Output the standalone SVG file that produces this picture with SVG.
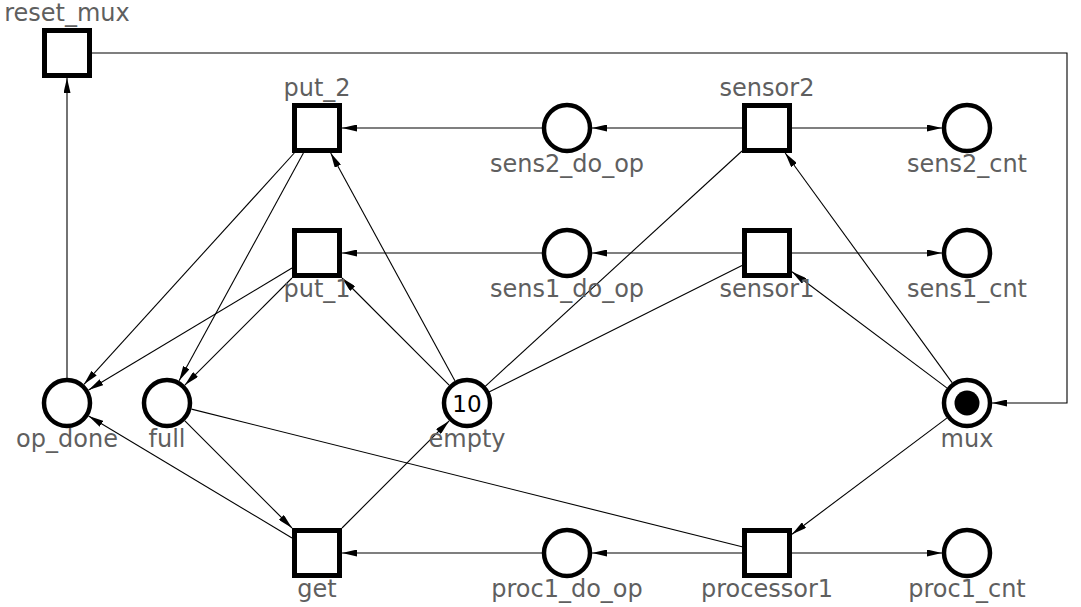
<svg xmlns="http://www.w3.org/2000/svg" width="1081" height="607" viewBox="0 0 1081 607">
<style>
.t{fill:#fff;stroke:#000;stroke-width:5}
.p{fill:#fff;stroke:#000;stroke-width:4.5}
.lbl{font-family:"DejaVu Sans",sans-serif;font-size:24px;fill:#5f5f5f;text-anchor:middle}
.tok{font-family:"DejaVu Sans",sans-serif;font-size:23px;fill:#000;text-anchor:middle}
.e{fill:none;stroke:#000;stroke-width:1.1}
.a{marker-end:url(#ah)}
</style>
<defs>
<marker id="ah" markerUnits="userSpaceOnUse" viewBox="0 0 15 7" markerWidth="15" markerHeight="7" refX="15" refY="3.5" orient="auto">
<path d="M0,0 L15,3.5 L0,7 z" fill="#000"/>
</marker>
</defs>
<rect width="1081" height="607" fill="#fff"/>
<g id="connectors">
<path class="e a" d="M92,53 H1067 V403 H992"/>
<path class="e a" d="M67,378 V78"/>
<path class="e a" d="M542,128 L342,128"/>
<path class="e a" d="M742,128 L592,128"/>
<path class="e a" d="M792,128 L942,128"/>
<path class="e a" d="M542,253 L342,253"/>
<path class="e a" d="M742,253 L592,253"/>
<path class="e a" d="M792,253 L942,253"/>
<path class="e a" d="M542,553 L342,553"/>
<path class="e a" d="M742,553 L592,553"/>
<path class="e a" d="M792,553 L942,553"/>
<path class="e a" d="M294.3,153 L84,384.3"/>
<path class="e a" d="M303.4,153 L179.1,380.8"/>
<path class="e a" d="M292,268 L88.6,390"/>
<path class="e a" d="M292,278 L184.9,385.1"/>
<path class="e a" d="M454.9,380.8 L330.7,153"/>
<path class="e a" d="M449.1,385.1 L342,278"/>
<path class="e" d="M742,151 L484.7,386.8"/>
<path class="e" d="M742,265.5 L488.5,392.3"/>
<path class="e a" d="M952.1,382.6 L785.2,153"/>
<path class="e a" d="M946.8,387.9 L792,271.8"/>
<path class="e a" d="M946.8,418.1 L792,534.2"/>
<path class="e" d="M191.5,409.1 L742,546.8"/>
<path class="e a" d="M184.9,420.9 L292,528"/>
<path class="e a" d="M292,538 L88.6,416"/>
<path class="e a" d="M342,528 L449.1,420.9"/>
</g>
<g id="reset_mux"><rect class="t" x="44.5" y="30.5" width="45" height="45"/><text class="lbl" x="67" y="21">reset_mux</text></g>
<g id="put_2"><rect class="t" x="294.5" y="105.5" width="45" height="45"/><text class="lbl" x="317" y="96">put_2</text></g>
<g id="sens2_do_op"><circle class="p" cx="567" cy="128" r="23"/><text class="lbl" x="567" y="172">sens2_do_op</text></g>
<g id="sensor2"><rect class="t" x="744.5" y="105.5" width="45" height="45"/><text class="lbl" x="767" y="96">sensor2</text></g>
<g id="sens2_cnt"><circle class="p" cx="967" cy="128" r="23"/><text class="lbl" x="967" y="172">sens2_cnt</text></g>
<g id="put_1"><rect class="t" x="294.5" y="230.5" width="45" height="45"/><text class="lbl" x="317" y="297">put_1</text></g>
<g id="sens1_do_op"><circle class="p" cx="567" cy="253" r="23"/><text class="lbl" x="567" y="297">sens1_do_op</text></g>
<g id="sensor1"><rect class="t" x="744.5" y="230.5" width="45" height="45"/><text class="lbl" x="767" y="297">sensor1</text></g>
<g id="sens1_cnt"><circle class="p" cx="967" cy="253" r="23"/><text class="lbl" x="967" y="297">sens1_cnt</text></g>
<g id="op_done"><circle class="p" cx="67" cy="403" r="23"/><text class="lbl" x="67" y="447">op_done</text></g>
<g id="full"><circle class="p" cx="167" cy="403" r="23"/><text class="lbl" x="167" y="447">full</text></g>
<g id="empty"><circle class="p" cx="467" cy="403" r="23"/><text class="tok" x="467" y="412">10</text><text class="lbl" x="467" y="447">empty</text></g>
<g id="mux"><circle class="p" cx="967" cy="403" r="23"/><circle cx="967" cy="403" r="12.5" fill="#000"/><text class="lbl" x="967" y="447">mux</text></g>
<g id="get"><rect class="t" x="294.5" y="530.5" width="45" height="45"/><text class="lbl" x="317" y="597">get</text></g>
<g id="proc1_do_op"><circle class="p" cx="567" cy="553" r="23"/><text class="lbl" x="567" y="597">proc1_do_op</text></g>
<g id="processor1"><rect class="t" x="744.5" y="530.5" width="45" height="45"/><text class="lbl" x="767" y="597">processor1</text></g>
<g id="proc1_cnt"><circle class="p" cx="967" cy="553" r="23"/><text class="lbl" x="967" y="597">proc1_cnt</text></g>
</svg>
